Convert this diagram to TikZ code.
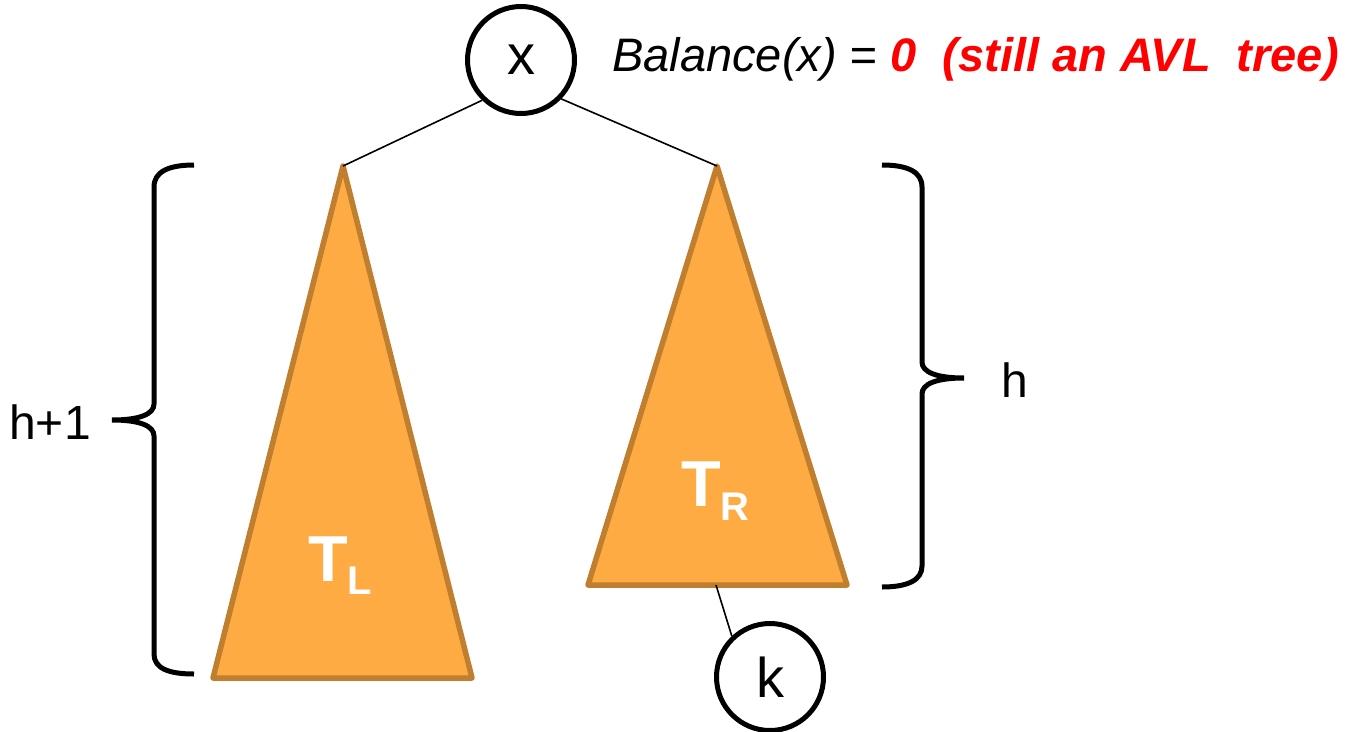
\documentclass[tikz,border=0pt]{standalone}
\usepackage{fontspec}
\setmainfont{Liberation Sans}
\definecolor{treefill}{RGB}{254,171,67}
\definecolor{treeedge}{RGB}{192,127,46}
\definecolor{hot}{RGB}{255,0,0}
\newcommand{\fs}[1]{\fontsize{#1}{#1}\selectfont}
\begin{document}
\begin{tikzpicture}[x=1pt,y=-1pt,
  keynode/.style={draw=black,line width=5pt,circle,minimum size=107pt,inner sep=0pt,font=\fs{56}},
  tree/.style={fill=treefill,draw=treeedge,line width=5.5pt,line join=round},
  edge/.style={line width=1.6pt},
  bracepath/.style={line width=5pt,line cap=butt},
  lbl/.style={font=\fs{48},inner sep=0pt},
  tlabel/.style={text=white,font=\bfseries\fs{65},inner sep=0pt,anchor=base west}]
\useasboundingbox (0,0) rectangle (1354,731);

% subtrees
\coordinate (apexL) at (343,166);
\coordinate (apexR) at (717,166);
\coordinate (kTop) at (716,585);
\draw[tree] (apexL) -- (472,678) -- (213,678) -- cycle;
\draw[tree] (apexR) -- (847,585) -- (588,585) -- cycle;
\node[tlabel] (TL) at (308,581) {T\raisebox{-13pt}{\fs{40}L}};
\node[tlabel] (TR) at (681,506) {T\raisebox{-14pt}{\fs{40}R}};

% key nodes
\node[keynode] (x) at (521,60) {x};
\node[keynode] (k) at (770,677) {k};

% edges
\draw[edge] (x.226) -- (apexL);
\draw[edge] (x.316) -- (apexR);
\draw[edge] (kTop) -- (k.133);

% braces
\draw[bracepath] (194,165) .. controls (168,165) and (154,172) .. (154,187)
  -- (154,404) .. controls (154,414) and (140,420) .. (112,420)
  .. controls (140,420) and (154,426) .. (154,436)
  -- (154,654) .. controls (154,668) and (168,674) .. (194,674);
\draw[bracepath] (882,165) .. controls (908,165) and (922,172) .. (922,187)
  -- (922,362) .. controls (922,372) and (936,378) .. (964,378)
  .. controls (936,378) and (922,384) .. (922,394)
  -- (922,566) .. controls (922,580) and (908,587) .. (882,587);

\node[lbl] (hp1) at (50,422) {h+1};
\node[lbl] (h) at (1015,380) {h};

% balance text
\node[inner sep=0pt,anchor=base west,font=\fs{47}] (bal) at (612,71)
  {\itshape Balance(x) = \textcolor{hot}{\bfseries 0\ \ (still an AVL\ \ tree)}};
\end{tikzpicture}
\end{document}
